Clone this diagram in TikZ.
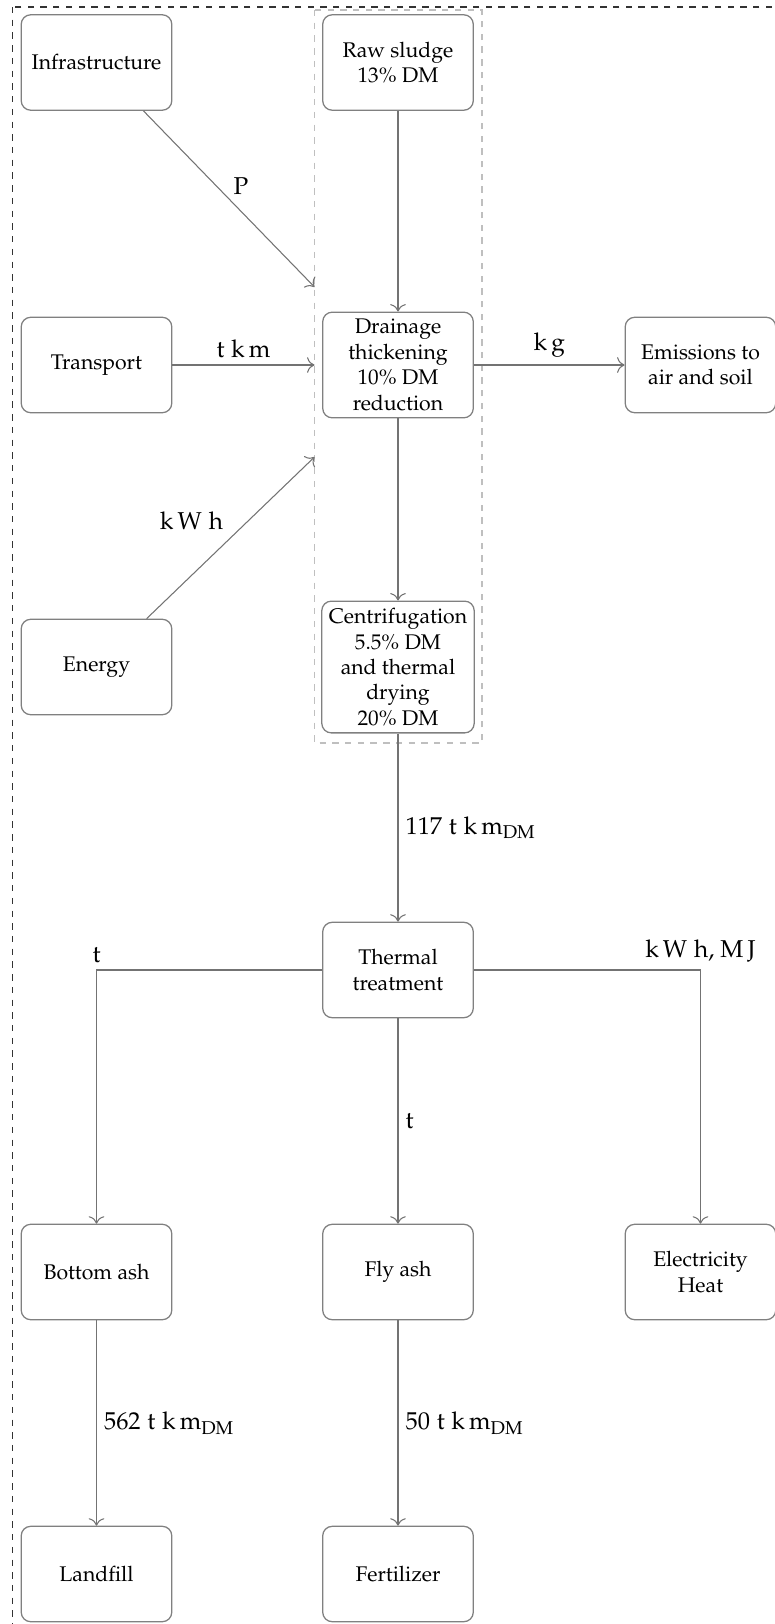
\documentclass[tikz,border=0pt]{standalone}
\usepackage[T1]{fontenc}
\usepackage{mathpazo}
\usetikzlibrary{arrows.meta}

\begin{document}
\begin{tikzpicture}[>={To[scale=1.3]}, x=0.4715pt, y=-0.4715pt,
    box/.style={draw=black!50, line width=0.6pt, rounded corners=4.5pt, align=center,
        minimum width=71pt, minimum height=45pt, text=black},
    flow/.style={->, draw=black!55, line width=0.5pt},
    lbl/.style={font=\fontsize{11.5pt}{14pt}\selectfont}]

    \useasboundingbox (0,0) rectangle (775,1624);

    % Frames
    \draw[dashed, black!80, line width=0.7pt] (12.7,7) rectangle (820,1660);
    \draw[dashed, black!25, line width=0.5pt] (314.5,10) rectangle (482,743);

    % Boxes
    \node[box] (infra) at (96.5,62.5) {Infrastructure};
    \node[box] (raw) at (398,62.5) {Raw sludge\\13\% DM};
    \node[box] (transport) at (96.5,365) {Transport};
    \node[box] (drain) at (398,365) {Drainage\\thickening\\10\% DM\\reduction};
    \node[box] (emis) at (700.5,365) {Emissions to\\air and soil};
    \node[box] (energy) at (96.5,667) {Energy};
    \node[box] (centri) at (398,667) {Centrifugation\\5.5\% DM\\and thermal\\drying\\20\% DM};
    \node[box] (thermal) at (398,970) {Thermal\\treatment};
    \node[box] (bottom) at (96.5,1272) {Bottom ash};
    \node[box] (fly) at (398,1272) {Fly ash};
    \node[box] (elec) at (700.5,1272) {Electricity\\Heat};
    \node[box] (landfill) at (96.5,1574) {Landfill};
    \node[box] (fert) at (398,1574) {Fertilizer};

    % Inputs into the dewatering frame
    \coordinate (inP) at (314.5,287);
    \coordinate (inT) at (314.5,365);
    \coordinate (inE) at (314.5,457);

    \draw[flow] (infra) -- node[lbl, midway, above right, inner sep=2pt] {P} (inP);
    \draw[flow] (transport) -- node[lbl, midway, above] {$\mathrm{t\;k\,m}$} (inT);
    \draw[flow] (energy) -- node[lbl, midway, above left] {$\mathrm{k\,W\;h}$} (inE);

    % Sludge line
    \draw[flow] (raw) -- (drain);
    \draw[flow] (drain) -- node[lbl, midway, above] {$\mathrm{k\,g}$} (emis);
    \draw[flow] (drain) -- (centri);
    \draw[flow] (centri) -- node[lbl, midway, right] {$117\;\mathrm{t\;k\,m}_{\mathrm{DM}}$} (thermal);

    % Outputs
    \draw[flow] (thermal) -| node[lbl, pos=0.5, above] {$\mathrm{t}$} (bottom);
    \draw[flow] (thermal) -- node[lbl, midway, right] {$\mathrm{t}$} (fly);
    \draw[flow] (thermal) -| node[lbl, pos=0.5, above] {$\mathrm{k\,W\;h}$, $\mathrm{M\,J}$} (elec);
    \draw[flow] (bottom) -- node[lbl, midway, right] {$562\;\mathrm{t\;k\,m}_{\mathrm{DM}}$} (landfill);
    \draw[flow] (fly) -- node[lbl, midway, right] {$50\;\mathrm{t\;k\,m}_{\mathrm{DM}}$} (fert);
\end{tikzpicture}
\end{document}
